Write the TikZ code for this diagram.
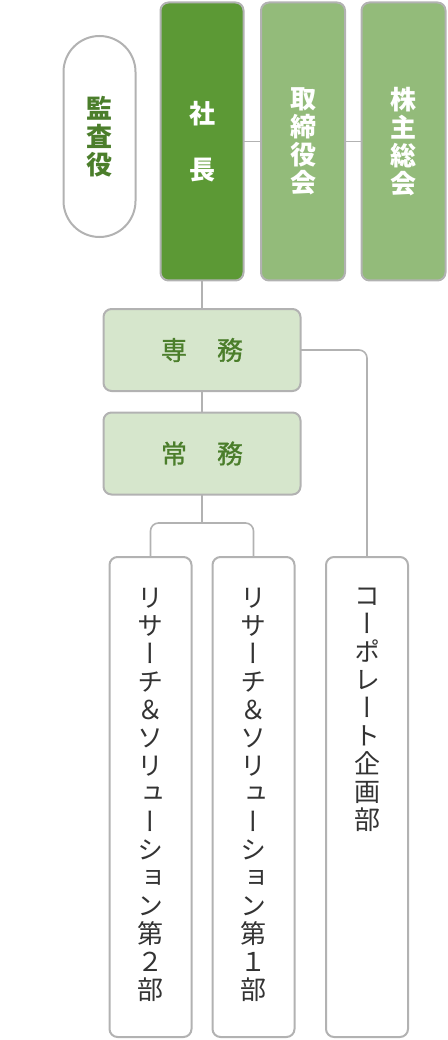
\documentclass[tikz,border=0pt]{standalone}
\usepackage{fontspec}
\newfontfamily\jp{Noto Sans CJK JP}
\newfontfamily\jpm[FakeBold=1]{Noto Sans CJK JP}
\newfontfamily\jpv[RawFeature=+vert]{Noto Sans CJK JP}
\definecolor{lineGray}{HTML}{B2B2B2}
\definecolor{darkGreen}{HTML}{5C9935}
\definecolor{midGreen}{HTML}{93BB7A}
\definecolor{paleGreen}{HTML}{D6E6CC}
\definecolor{txtGreen}{HTML}{4B7E2B}
\definecolor{txtDark}{HTML}{333333}
\begin{document}
\begin{tikzpicture}[x=1pt,y=-1pt,
  every node/.style={inner sep=0pt,outer sep=0pt},
  frame/.style={draw=lineGray,line width=2pt,rounded corners=8pt},
  topfont/.style={font=\jp\bfseries\fontsize{26}{28}\selectfont,align=center},
  midfont/.style={font=\jpm\fontsize{26}{28}\selectfont,text=txtGreen},
  vtext/.style={font=\jpv\fontsize{26}{28}\selectfont,align=center,text=txtDark,anchor=north},
  conn/.style={draw=lineGray,line width=1.6pt}]
\useasboundingbox (0,0) rectangle (447,1040);
% top row
\node[frame,fill=white,rounded corners=36pt,minimum width=72pt,minimum height=201pt,topfont,text=txtGreen] (kansa) at (99.5,136.5) {監\\査\\役};
\node[frame,fill=darkGreen,minimum width=83pt,minimum height=278pt,topfont,text=white] (shacho) at (202,141.5) {社\\[28pt]長};
\node[frame,fill=midGreen,minimum width=84pt,minimum height=278pt,topfont,text=white] (torishimari) at (303,141.5) {取\\締\\役\\会};
\node[frame,fill=midGreen,minimum width=84pt,minimum height=278pt,topfont,text=white] (kabunushi) at (403.5,141.5) {株\\主\\総\\会};
% middle
\node[frame,fill=paleGreen,minimum width=197pt,minimum height=82pt,midfont] (senmu) at (202,350) {専\hspace{30pt}務};
\node[frame,fill=paleGreen,minimum width=197pt,minimum height=82pt,midfont] (jomu) at (202,453.5) {常\hspace{30pt}務};
% bottom
\node[frame,fill=white,minimum width=82pt,minimum height=480pt] (b1) at (150.5,797) {};
\node[frame,fill=white,minimum width=82pt,minimum height=480pt] (b2) at (253.5,797) {};
\node[frame,fill=white,minimum width=82pt,minimum height=480pt] (b3) at (367,797) {};
\node[vtext] (t1) at ([yshift=-31pt]b1.north) {リ\\サ\\ー\\チ\\＆\\ソ\\リ\\ュ\\ー\\シ\\ョ\\ン\\第\\２\\部};
\node[vtext] (t2) at ([yshift=-31pt]b2.north) {リ\\サ\\ー\\チ\\＆\\ソ\\リ\\ュ\\ー\\シ\\ョ\\ン\\第\\１\\部};
\node[vtext] (t3) at ([yshift=-31pt]b3.north) {コ\\ー\\ポ\\レ\\ー\\ト\\企\\画\\部};
% connectors
\coordinate (split) at (202,523);
\draw[conn] (shacho.east) -- (torishimari.west);
\draw[conn] (torishimari.east) -- (kabunushi.west);
\draw[conn] (shacho.south) -- (senmu.north);
\draw[conn] (senmu.south) -- (jomu.north);
\draw[conn] (jomu.south) -- (split);
\draw[conn,rounded corners=8pt] (b1.north) |- (split) -| (b2.north);
\draw[conn,rounded corners=8pt] (senmu.east) -| (b3.north);
\end{tikzpicture}
\end{document}
